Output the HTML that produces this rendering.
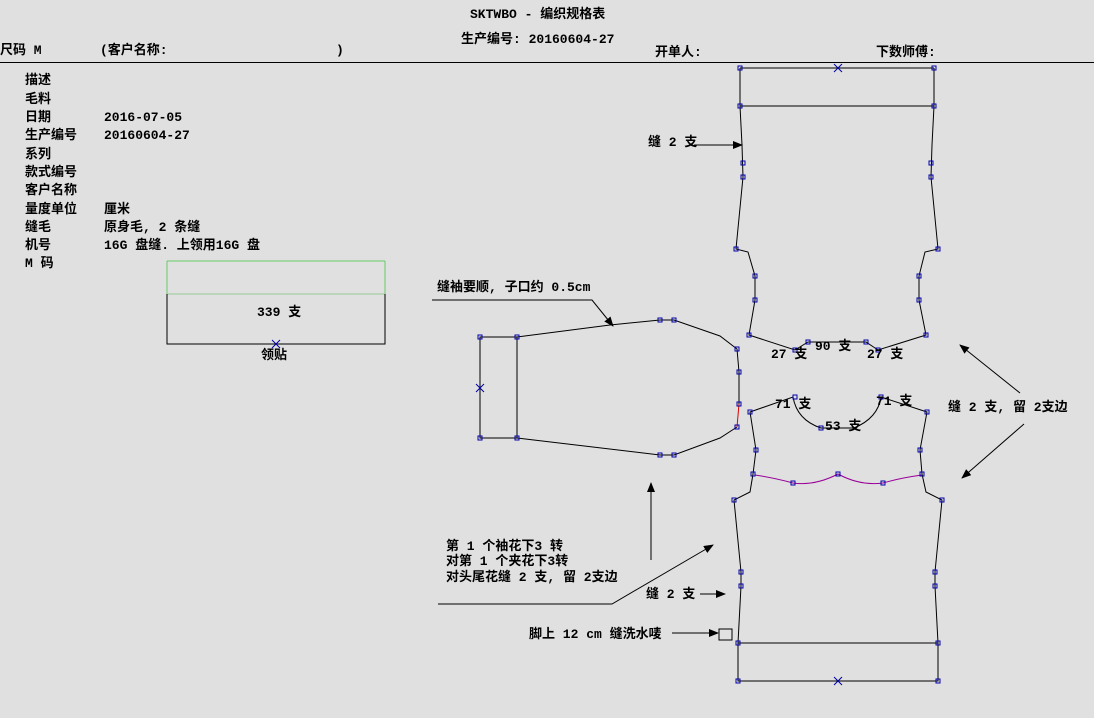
<!DOCTYPE html>
<html><head><meta charset="utf-8"><style>
body{margin:0;width:1094px;height:718px;background:#e0e0e0;overflow:hidden;font-family:"Liberation Mono","WenQuanYi Zen Hei","Noto Sans CJK SC",monospace;}
svg{position:absolute;left:0;top:0}
text{font-family:"Liberation Mono","WenQuanYi Zen Hei","Noto Sans CJK SC",monospace;font-weight:bold;font-size:13px;fill:#000}
</style></head><body>
<svg width="1094" height="718" viewBox="0 0 1094 718">
<defs><marker id="a" markerWidth="10" markerHeight="8" refX="9" refY="4" orient="auto" markerUnits="userSpaceOnUse"><path d="M0,0L10,4L0,8z" fill="#000"/></marker></defs>
<text x="470" y="18" font-size="14">SKTWBO - 编织规格表</text>
<text x="461" y="43" font-size="14">生产编号: 20160604-27</text>
<text x="0" y="54" font-size="14">尺码 M</text>
<text x="100" y="54" font-size="14">(客户名称:</text>
<text x="336" y="54" font-size="14">)</text>
<text x="655" y="56" font-size="12">开单人:</text>
<text x="876" y="56" font-size="12">下数师傅:</text>
<line x1="0" y1="62.5" x2="1094" y2="62.5" stroke="#000"/>
<g font-size="12">
<text x="25" y="84">描述</text><text x="25" y="103">毛料</text>
<text x="25" y="121">日期</text><text x="104" y="121">2016-07-05</text>
<text x="25" y="139">生产编号</text><text x="104" y="139">20160604-27</text>
<text x="25" y="158">系列</text><text x="25" y="176">款式编号</text><text x="25" y="194">客户名称</text>
<text x="25" y="213">量度单位</text><text x="104" y="213">厘米</text>
<text x="25" y="231">缝毛</text><text x="104" y="231">原身毛, 2 条缝</text>
<text x="25" y="249">机号</text><text x="104" y="249">16G 盘缝. 上领用16G 盘</text>
<text x="25" y="267">M 码</text>
</g>
<!-- collar -->
<g fill="none" stroke-width="1">
<line x1="167" y1="261" x2="385" y2="261" stroke="#6c6"/>
<line x1="167" y1="261" x2="167" y2="294" stroke="#6c6"/>
<line x1="385" y1="261" x2="385" y2="294" stroke="#6c6"/>
<line x1="167" y1="294" x2="385" y2="294" stroke="#9c9"/>
<path d="M167,294V344H385V294" stroke="#000"/>
</g>
<text x="257" y="316">339 支</text><text x="261" y="359">领贴</text>
<path d="M272,340l8,8M280,340l-8,8" stroke="#00a"/>
<!-- back -->
<g fill="none" stroke="#000">
<path d="M740,68H934M740,106H934"/>
<path d="M740,68V106L742,145L743,177L736,249L748,252L755,276L755,300L749,335L795,350L808,342H866L878,350L926,335L919,300L919,276L925,252L938,249L931,177L932,145L934,106V68"/>
<!-- sleeve -->
<path d="M480,337H517V438H480Z"/>
<path d="M517,337L610,325L660,320H674L720,336L737,349L739,372L739,404"/>
<path d="M737,427L720,438L674,455H660L517,438"/>
<!-- front -->
<path d="M750,412L793,397Q797,420 821,428H854Q878,418 881,397L927,412L920,450L922,474L926,492L942,500L935,572L935,586L938,643V681H738V643L741,586L741,572L734,500L750,492L753,474L756,450Z"/>
<path d="M738,643H938"/>
</g>
<path d="M739,404L737,427" stroke="#d00" fill="none"/>
<path d="M755,475Q775,478 793,483Q815,486 838,474Q860,486 883,483Q900,478 922,475" stroke="#909" fill="none"/>
<g stroke="#00a"><path d="M834,64l8,8M842,64l-8,8M476,384l8,8M484,384l-8,8M834,677l8,8M842,677l-8,8"/></g>
<g fill="none" stroke="#00a">
<path d="M738,66h4v4h-4zM932,66h4v4h-4zM738,104h4v4h-4zM932,104h4v4h-4zM741,161h4v4h-4zM741,175h4v4h-4zM929,161h4v4h-4zM929,175h4v4h-4zM734,247h4v4h-4zM936,247h4v4h-4zM753,274h4v4h-4zM753,298h4v4h-4zM917,274h4v4h-4zM917,298h4v4h-4zM747,333h4v4h-4zM924,333h4v4h-4zM793,348h4v4h-4zM806,340h4v4h-4zM864,340h4v4h-4zM876,348h4v4h-4z"/>
<path d="M478,335h4v4h-4zM515,335h4v4h-4zM478,436h4v4h-4zM515,436h4v4h-4zM658,318h4v4h-4zM672,318h4v4h-4zM735,347h4v4h-4zM737,370h4v4h-4zM737,402h4v4h-4zM735,425h4v4h-4zM658,453h4v4h-4zM672,453h4v4h-4z"/>
<path d="M748,410h4v4h-4zM793,395h4v4h-4zM819,426h4v4h-4zM879,395h4v4h-4zM925,410h4v4h-4zM754,448h4v4h-4zM918,448h4v4h-4zM751,472h4v4h-4zM920,472h4v4h-4zM791,481h4v4h-4zM836,472h4v4h-4zM881,481h4v4h-4zM732,498h4v4h-4zM940,498h4v4h-4zM739,570h4v4h-4zM739,584h4v4h-4zM933,570h4v4h-4zM933,584h4v4h-4zM736,641h4v4h-4zM936,641h4v4h-4zM736,679h4v4h-4zM936,679h4v4h-4z"/>
</g>
<text x="771" y="358">27 支</text><text x="815" y="350">90 支</text><text x="867" y="358">27 支</text>
<text x="775" y="408">71 支</text><text x="876" y="405">71 支</text><text x="825" y="430">53 支</text>
<!-- annotations -->
<text x="648" y="146">缝 2 支</text>
<line x1="694" y1="145" x2="742" y2="145" stroke="#000" marker-end="url(#a)"/>
<text x="437" y="291">缝袖要顺, 子口约 0.5cm</text>
<path d="M432,300H592L613,326" stroke="#000" fill="none" marker-end="url(#a)"/>
<text x="948" y="411">缝 2 支, 留 2支边</text>
<line x1="1020" y1="393" x2="960" y2="345" stroke="#000" marker-end="url(#a)"/>
<line x1="1024" y1="424" x2="962" y2="478" stroke="#000" marker-end="url(#a)"/>
<line x1="651" y1="560" x2="651" y2="483" stroke="#000" marker-end="url(#a)"/>
<text x="446" y="550">第 1 个袖花下3 转</text>
<text x="446" y="565">对第 1 个夹花下3转</text>
<text x="446" y="581">对头尾花缝 2 支, 留 2支边</text>
<path d="M438,604H612L713,545" stroke="#000" fill="none" marker-end="url(#a)"/>
<text x="646" y="598">缝 2 支</text>
<line x1="700" y1="594" x2="725" y2="594" stroke="#000" marker-end="url(#a)"/>
<text x="529" y="638">脚上 12 cm 缝洗水唛</text>
<line x1="672" y1="633" x2="718" y2="633" stroke="#000" marker-end="url(#a)"/>
<rect x="719" y="629" width="13" height="11" fill="none" stroke="#000"/>
</svg>
</body></html>
